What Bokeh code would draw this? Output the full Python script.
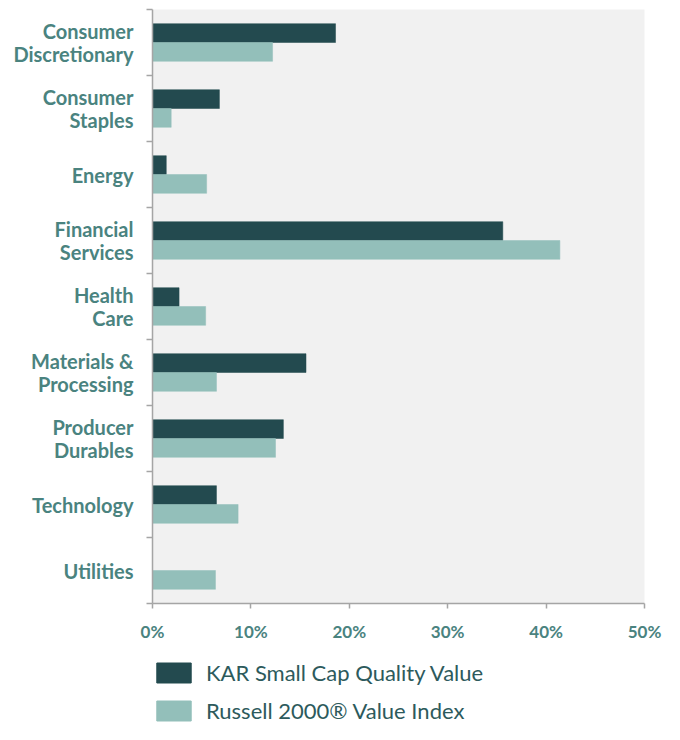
from bokeh.plotting import figure
from bokeh.layouts import column
from bokeh.models import (ColumnDataSource, Range1d, FixedTicker, Legend, LegendItem,
                          PrintfTickFormatter)
from bokeh.transform import dodge
from bokeh.embed import file_html
from bokeh.resources import INLINE

categories = ["Consumer Discretionary", "Consumer Staples", "Energy", "Financial Services",
              "Health Care", "Materials & Processing", "Producer Durables", "Technology",
              "Utilities"]
tick_labels = ["Consumer\nDiscretionary", "Consumer\nStaples", "Energy", "Financial\nServices",
               "Health\nCare", "Materials &\nProcessing", "Producer\nDurables", "Technology",
               "Utilities"]
kar = [18.6, 6.8, 1.4, 35.6, 2.7, 15.6, 13.3, 6.5, 0.0]
russell = [12.2, 1.9, 5.5, 41.4, 5.4, 6.5, 12.5, 8.7, 6.4]
x_ticks = [0, 10, 20, 30, 40, 50]
series_names = ["KAR Small Cap Quality Value", "Russell 2000\u00ae Value Index"]

DARK = "#234a4f"
LIGHT = "#93bfba"
LABEL = "#4a837f"
AXIS = "#a5a5a5"
FONT = "Lato"

n = len(categories)
centers = [i + 0.5 for i in range(n)]
bounds = [float(i) for i in range(n + 1)]

src = ColumnDataSource(dict(cat=categories, y=centers, kar=kar, russell=russell))

p = figure(width=664, height=654, output_backend="svg", toolbar_location=None,
           x_range=Range1d(0, 50), y_range=Range1d(n, 0),
           min_border_left=152, min_border_right=20, min_border_top=9,
           min_border_bottom=51)
p.background_fill_color = "#f1f1f1"
p.border_fill_color = "white"
p.outline_line_color = None
p.grid.visible = False

bh = 0.285
p.hbar(y=dodge("y", -0.1425, range=p.y_range), right="kar", left=0, height=bh,
       source=src, fill_color=DARK, line_color=DARK, line_width=0.5)
p.hbar(y=dodge("y", 0.1425, range=p.y_range), right="russell", left=0, height=bh,
       source=src, fill_color=LIGHT, line_color=LIGHT, line_width=0.5)

# x axis
xa = p.xaxis[0]
xa.ticker = FixedTicker(ticks=x_ticks, minor_ticks=[])
xa.formatter = PrintfTickFormatter(format="%d%%")
xa.axis_line_color = AXIS
xa.axis_line_width = 1.5
xa.major_tick_line_color = AXIS
xa.major_tick_line_width = 1.5
xa.major_tick_out = 5
xa.major_tick_in = 0
xa.minor_tick_line_color = None
xa.major_label_standoff = 12
xa.major_label_text_font = FONT
xa.major_label_text_font_style = "bold"
xa.major_label_text_font_size = "17px"
xa.major_label_text_color = LABEL

# y axis: ticks at category boundaries, labels at centres
ya = p.yaxis[0]
ya.ticker = FixedTicker(ticks=centers, minor_ticks=bounds)
ya.major_label_overrides = {c: lab for c, lab in zip(centers, tick_labels)}
ya.axis_line_color = AXIS
ya.axis_line_width = 1.5
ya.major_tick_line_color = None
ya.major_tick_out = 6
ya.major_tick_in = 0
ya.minor_tick_line_color = AXIS
ya.minor_tick_line_width = 1.5
ya.minor_tick_out = 6
ya.minor_tick_in = 0
ya.major_label_standoff = 13
ya.major_label_text_font = FONT
ya.major_label_text_font_style = "bold"
ya.major_label_text_font_size = "20px"
ya.major_label_text_color = LABEL
ya.major_label_text_line_height = 0.95

# legend strip below the chart (same series, drawn outside its visible range)
lg = figure(width=664, height=70, output_backend="svg", toolbar_location=None,
            x_range=Range1d(0, 50), y_range=Range1d(100, 101),
            x_axis_type=None, y_axis_type=None,
            min_border_left=0, min_border_right=0, min_border_top=0, min_border_bottom=0)
lg.outline_line_color = None
lg.grid.visible = False
lg.background_fill_color = "white"
k1 = lg.hbar(y="y", right="kar", left=0, height=bh, source=src,
             fill_color=DARK, line_color=DARK)
k2 = lg.hbar(y="y", right="russell", left=0, height=bh, source=src,
             fill_color=LIGHT, line_color=LIGHT)

legend = Legend(items=[LegendItem(label=series_names[0], renderers=[k1]),
                       LegendItem(label=series_names[1], renderers=[k2])],
                location=(0, 0), orientation="vertical",
                glyph_width=43, glyph_height=25, spacing=11, padding=0, margin=0,
                label_standoff=11, label_text_font=FONT, label_text_font_size="22px",
                label_text_color="#2d5a5c", background_fill_alpha=0,
                border_line_color=None)
lg.add_layout(legend, "center")

layout = column(p, lg, spacing=0)
open("out.html", "w").write(file_html(layout, INLINE))
